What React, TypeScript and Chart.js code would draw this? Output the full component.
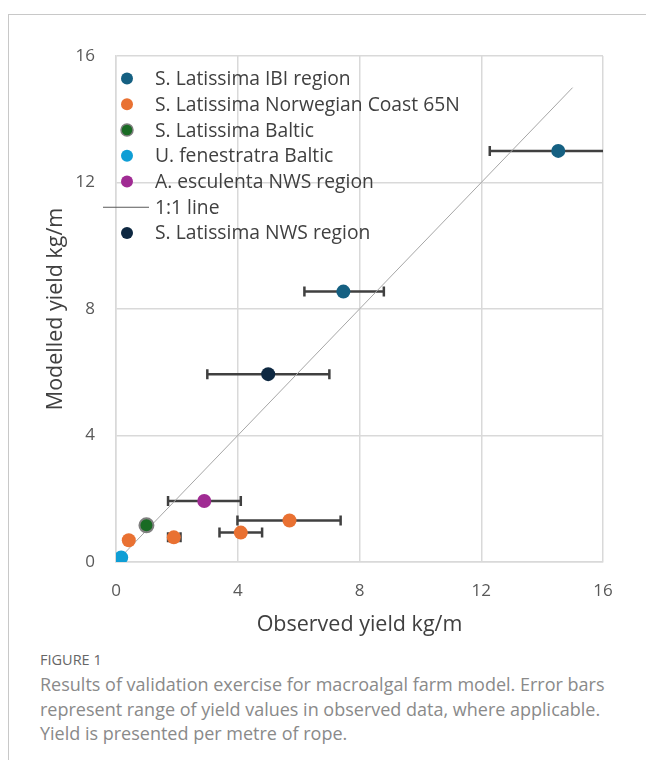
import React, { useEffect, useRef } from "react";
import { Chart, registerables } from "chart.js";

Chart.register(...registerables);

// ---- data ----
const ibiX = [7.47, 14.53];
const ibiY = [8.55, 13.0];
const ibiXMin = [6.19, 12.28];
const ibiXMax = [8.8, 16.6];

const norX = [0.42, 1.9, 4.1, 5.7];
const norY = [0.69, 0.78, 0.93, 1.31];
const norXMin = [null, 1.71, 3.4, 3.99];
const norXMax = [null, 2.12, 4.8, 7.38];

const balticX = [1.0];
const balticY = [1.16];

const ufenX = [0.17];
const ufenY = [0.14];

const aescX = [2.9];
const aescY = [1.93];
const aescXMin = [1.71];
const aescXMax = [4.1];

const lineX = [0, 15];
const lineY = [0, 15];

const nwsX = [5.0];
const nwsY = [5.94];
const nwsXMin = [3.0];
const nwsXMax = [7.01];

const xTicks = [0, 4, 8, 12, 16];
const yTicks = [0, 4, 8, 12, 16];

const labels = [
  "S. Latissima IBI region",
  "S. Latissima Norwegian Coast 65N",
  "S. Latissima Baltic",
  "U. fenestratra Baltic",
  "A. esculenta NWS region",
  "1:1 line",
  "S. Latissima NWS region",
];

const captionLines = [
  "Results of validation exercise for macroalgal farm model. Error bars",
  "represent range of yield values in observed data, where applicable.",
  "Yield is presented per metre of rope.",
];

const FONT = "'Open Sans', 'DejaVu Sans', sans-serif";

const pts = (xs: number[], ys: number[]) => xs.map((x, i) => ({ x, y: ys[i] }));

const errorBarPlugin = {
  id: "errorBars",
  beforeDatasetsDraw(chart: any) {
    const { ctx, chartArea, scales } = chart;
    ctx.save();
    ctx.beginPath();
    ctx.rect(chartArea.left, chartArea.top, chartArea.right - chartArea.left, chartArea.bottom - chartArea.top);
    ctx.clip();
    ctx.strokeStyle = "#404040";
    ctx.lineWidth = 2.5;
    chart.data.datasets.forEach((ds: any) => {
      if (!ds.errMin) return;
      ds.data.forEach((p: any, i: number) => {
        const lo = ds.errMin[i];
        const hi = ds.errMax[i];
        if (lo == null || hi == null) return;
        const y = scales.y.getPixelForValue(p.y);
        const x1 = scales.x.getPixelForValue(lo);
        const x2 = scales.x.getPixelForValue(hi);
        ctx.beginPath();
        ctx.moveTo(x1, y);
        ctx.lineTo(x2, y);
        ctx.moveTo(x1, y - 5);
        ctx.lineTo(x1, y + 5);
        ctx.moveTo(x2, y - 5);
        ctx.lineTo(x2, y + 5);
        ctx.stroke();
      });
    });
    ctx.restore();
  },
};

const legendPlugin = {
  id: "customLegend",
  afterDraw(chart: any) {
    const { ctx, chartArea } = chart;
    ctx.save();
    ctx.font = `19.3px ${FONT}`;
    ctx.textBaseline = "middle";
    ctx.textAlign = "left";
    chart.data.datasets.forEach((ds: any, i: number) => {
      const y = chartArea.top + 22.6 + i * 25.73;
      const mx = chartArea.left + 11;
      if (ds.type === "line") {
        ctx.strokeStyle = "#595959";
        ctx.lineWidth = 1;
        ctx.beginPath();
        ctx.moveTo(chartArea.left - 13, y);
        ctx.lineTo(chartArea.left + 33, y);
        ctx.stroke();
      } else {
        ctx.beginPath();
        ctx.arc(mx, y, 6, 0, Math.PI * 2);
        ctx.fillStyle = ds.backgroundColor;
        ctx.fill();
        if (ds.borderColor !== ds.backgroundColor) {
          ctx.strokeStyle = ds.borderColor;
          ctx.lineWidth = 1.5;
          ctx.stroke();
        }
      }
      ctx.fillStyle = "#404040";
      ctx.fillText(ds.label, chartArea.left + 39, y + 1);
    });
    ctx.restore();
  },
};

function scatterSet(label: string, data: any[], color: string, border?: string, errMin?: any[], errMax?: any[]) {
  return {
    type: "scatter",
    label,
    data,
    backgroundColor: color,
    borderColor: border || color,
    borderWidth: border ? 2 : 0,
    pointRadius: 7,
    pointHoverRadius: 7,
    order: 0,
    errMin,
    errMax,
  };
}

export default function App() {
  const ref = useRef<HTMLCanvasElement | null>(null);

  useEffect(() => {
    document.documentElement.style.overflow = "hidden";
    if (!ref.current) return;
    const chart = new Chart(ref.current, {
      type: "scatter",
      data: {
        datasets: [
          scatterSet(labels[0], pts(ibiX, ibiY), "#156082", undefined, ibiXMin, ibiXMax),
          scatterSet(labels[1], pts(norX, norY), "#E97132", undefined, norXMin, norXMax),
          scatterSet(labels[2], pts(balticX, balticY), "#196B24", "#7f7f7f"),
          scatterSet(labels[3], pts(ufenX, ufenY), "#0F9ED5"),
          scatterSet(labels[4], pts(aescX, aescY), "#A02B93", undefined, aescXMin, aescXMax),
          {
            type: "line",
            label: labels[5],
            data: pts(lineX, lineY),
            borderColor: "#a6a6a6",
            backgroundColor: "#a6a6a6",
            borderWidth: 1,
            pointRadius: 0,
            fill: false,
            order: 10,
          },
          scatterSet(labels[6], pts(nwsX, nwsY), "#0E2841", undefined, nwsXMin, nwsXMax),
        ] as any,
      },
      options: {
        animation: false,
        responsive: false,
        maintainAspectRatio: false,
        events: [],
        layout: { padding: { top: 41, right: 43, left: 0, bottom: 0 } },
        plugins: { legend: { display: false }, tooltip: { enabled: false } },
        scales: {
          x: {
            type: "linear",
            min: xTicks[0],
            max: xTicks[xTicks.length - 1],
            afterBuildTicks: (s: any) => {
              s.ticks = xTicks.map((v) => ({ value: v }));
            },
            ticks: { color: "#595959", font: { family: FONT, size: 17 }, padding: 19 },
            grid: { color: "#d9d9d9", lineWidth: 1.5, drawTicks: false },
            border: { color: "#d9d9d9", width: 1.5 },
            title: {
              display: true,
              text: "Observed yield kg/m",
              color: "#404040",
              font: { family: FONT, size: 21.5 },
              padding: { top: 0, bottom: 2 },
            },
            afterFit: (s: any) => {
              s.height = 78;
            },
          },
          y: {
            type: "linear",
            min: yTicks[0],
            max: yTicks[yTicks.length - 1],
            afterBuildTicks: (s: any) => {
              s.ticks = yTicks.map((v) => ({ value: v }));
            },
            ticks: { color: "#595959", font: { family: FONT, size: 17 }, padding: 21 },
            grid: { color: "#d9d9d9", lineWidth: 1.5, drawTicks: false },
            border: { color: "#d9d9d9", width: 1.5 },
            title: {
              display: true,
              text: "Modelled yield kg/m",
              color: "#404040",
              font: { family: FONT, size: 21.5 },
              padding: { top: 34, bottom: 0 },
            },
            afterFit: (s: any) => {
              s.width = 107;
            },
          },
        },
      } as any,
      plugins: [errorBarPlugin, legendPlugin],
    });
    return () => chart.destroy();
  }, []);

  return (
    <div
      style={{
        position: "absolute",
        left: 8,
        top: 14,
        width: 638,
        borderTop: "1px solid #c8c8c8",
        borderLeft: "1px solid #c8c8c8",
        height: 746,
        boxSizing: "border-box",
        fontFamily: FONT,
      }}
    >
      <canvas ref={ref} width={637} height={625} style={{ display: "block" }} />
      <div style={{ paddingLeft: 31, marginTop: 12 }}>
        <div style={{ fontSize: 14.5, lineHeight: "16px", color: "#666666", fontWeight: 500 }}>FIGURE 1</div>
        <div style={{ fontSize: 18, lineHeight: "24.5px", color: "#8a8a8a", marginTop: 4, whiteSpace: "nowrap" }}>
          {captionLines.map((l, i) => (
            <div key={i}>{l}</div>
          ))}
        </div>
      </div>
    </div>
  );
}
